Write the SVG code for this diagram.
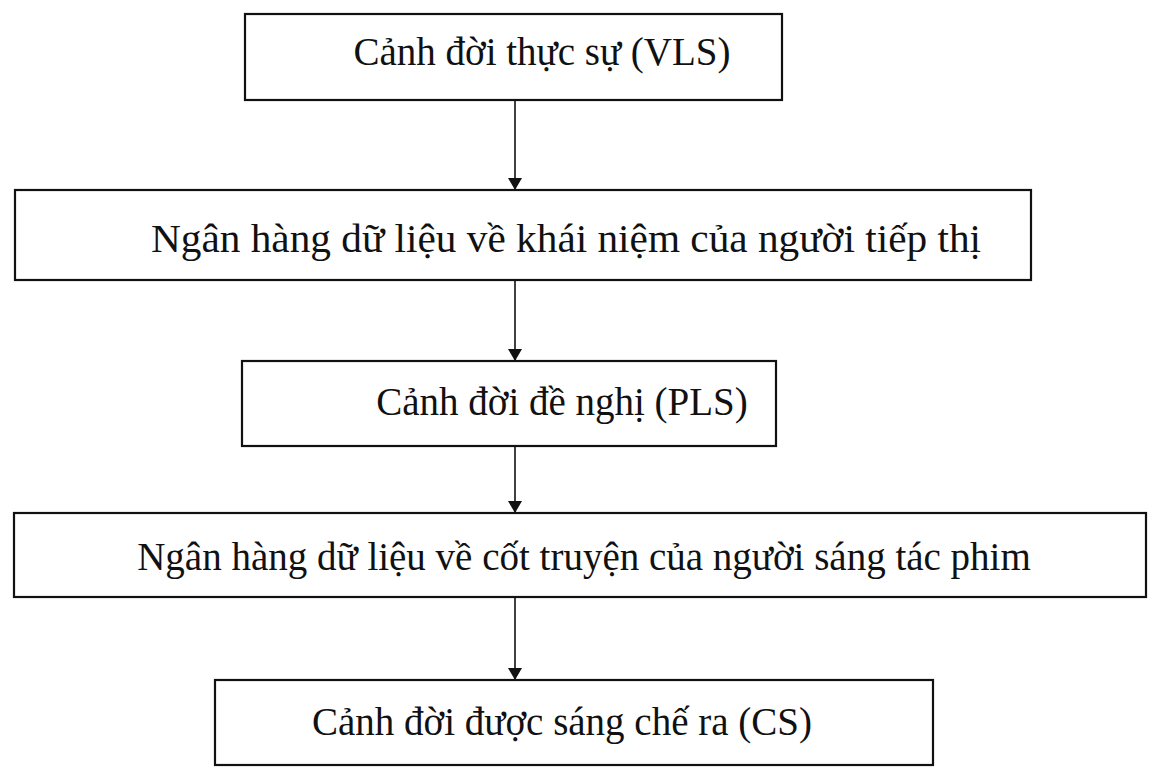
<svg xmlns="http://www.w3.org/2000/svg" width="1161" height="767" viewBox="0 0 1161 767">
<style>
.box{fill:#fff;stroke:#111;stroke-width:2.2}
.lbl{font-family:"Liberation Serif","Times New Roman",serif;font-size:39px;fill:#111;text-anchor:middle}
.con{stroke:#111;stroke-width:1.6;fill:none;marker-end:url(#ah)}
</style>
<defs>
<marker id="ah" viewBox="0 0 10 10" refX="10" refY="5" markerWidth="12" markerHeight="14" markerUnits="userSpaceOnUse" orient="auto" preserveAspectRatio="none">
<path d="M0,0 L10,5 L0,10 z" fill="#111"/>
</marker>
</defs>
<rect width="1161" height="767" fill="#fff"/>
<g id="connectors">
<line class="con" x1="515" y1="100" x2="515" y2="190"/>
<line class="con" x1="515" y1="280" x2="515" y2="361"/>
<line class="con" x1="515" y1="446" x2="515" y2="513"/>
<line class="con" x1="515" y1="597" x2="515" y2="680"/>
</g>
<g id="n1"><rect class="box" x="245" y="14" width="537" height="86"/><text class="lbl" x="542" y="65">Cảnh đời thực sự (VLS)</text></g>
<g id="n2"><rect class="box" x="15" y="190" width="1016" height="90"/><text class="lbl" x="566" y="252" style="font-size:41px" textLength="830" lengthAdjust="spacingAndGlyphs">Ngân hàng dữ liệu về khái niệm của người tiếp thị</text></g>
<g id="n3"><rect class="box" x="242" y="361" width="534" height="85"/><text class="lbl" x="562" y="415">Cảnh đời đề nghị (PLS)</text></g>
<g id="n4"><rect class="box" x="14" y="513" width="1132" height="84"/><text class="lbl" x="584" y="570">Ngân hàng dữ liệu về cốt truyện của người sáng tác phim</text></g>
<g id="n5"><rect class="box" x="215" y="680" width="718" height="85"/><text class="lbl" x="562" y="735">Cảnh đời được sáng chế ra (CS)</text></g>
</svg>
